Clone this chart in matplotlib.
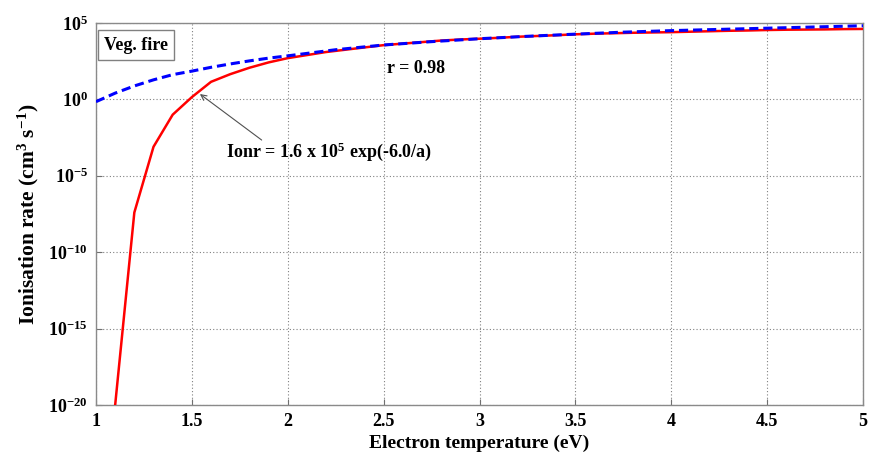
import numpy as np
import matplotlib
matplotlib.use("Agg")
import matplotlib.pyplot as plt
from matplotlib.ticker import FixedLocator, FuncFormatter, NullLocator

# ---- data ----
red_T = [1.1, 1.2, 1.3, 1.4, 1.5, 1.6, 1.7, 1.8, 1.9, 2.0,
         2.1, 2.2, 2.3, 2.4, 2.5, 2.6, 2.7, 2.8, 2.9, 3.0,
         3.1, 3.2, 3.3, 3.4, 3.5, 3.6, 3.7, 3.8, 3.9, 4.0,
         4.1, 4.2, 4.3, 4.4, 4.5, 4.6, 4.7, 4.8, 4.9, 5.0]
red_log = [-20.0, -7.4, -3.1, -1.0, 0.15, 1.15, 1.65, 2.07, 2.42, 2.7,
           2.9, 3.1, 3.25, 3.4, 3.55, 3.65, 3.75, 3.85, 3.92, 3.97,
           4.03, 4.1, 4.15, 4.2, 4.26, 4.3, 4.33, 4.36, 4.38, 4.4,
           4.43, 4.46, 4.49, 4.51, 4.54, 4.56, 4.57, 4.58, 4.6, 4.61]

blue_T = [1.0, 1.1, 1.2, 1.3, 1.4, 1.5, 1.6, 1.7, 1.8, 1.9, 2.0,
          2.25, 2.5, 2.75, 3.0, 3.25, 3.5, 3.75, 4.0, 4.25, 4.5, 4.75, 5.0]
blue_log = [-0.15, 0.41, 0.88, 1.28, 1.62, 1.85, 2.1, 2.32, 2.52, 2.7, 2.85,
            3.25, 3.56, 3.78, 3.97, 4.13, 4.27, 4.4, 4.5, 4.58, 4.66, 4.74, 4.82]

xticks = [1, 1.5, 2, 2.5, 3, 3.5, 4, 4.5, 5]
xtick_labels = ["1", "1.5", "2", "2.5", "3", "3.5", "4", "4.5", "5"]
ytick_exps = [-20, -15, -10, -5, 0, 5]

red_rate = [10.0 ** v for v in red_log]
blue_rate = [10.0 ** v for v in blue_log]

plt.rcParams['font.family'] = ['Liberation Serif', 'DejaVu Serif']
plt.rcParams['font.weight'] = 'bold'
plt.rcParams['mathtext.fontset'] = 'custom'
plt.rcParams['mathtext.rm'] = 'Liberation Serif:bold'
plt.rcParams['mathtext.bf'] = 'Liberation Serif:bold'
plt.rcParams['mathtext.it'] = 'Liberation Serif:bold'

fig = plt.figure(figsize=(8.75, 4.58), dpi=100)
ax = fig.add_axes([0.1097, 0.1157, 0.8766, 0.8341])

ax.plot(red_T, red_rate, color='#ff0000', lw=1.8, zorder=3)
ax.plot(blue_T, blue_rate, color='#0000ff', lw=2.2, ls=(0, (3, 1.6)), zorder=4)

ax.set_yscale('log')
ax.set_xlim(1, 5)
ax.set_ylim(1e-20, 1e5)

ax.xaxis.set_major_locator(FixedLocator(xticks))
ax.set_xticklabels(xtick_labels)
ax.yaxis.set_major_locator(FixedLocator([10.0 ** e for e in ytick_exps]))
ax.yaxis.set_minor_locator(NullLocator())
ax.yaxis.set_major_formatter(FuncFormatter(lambda v, p: r'$\mathbf{10^{%d}}$' % int(round(np.log10(v)))))

ax.tick_params(direction='in', length=4, width=0.8, color='#707070', labelsize=13, pad=6)
for lab in ax.get_xticklabels():
    lab.set_fontweight('bold')
ax.grid(True, which='major', color='#808080', ls=(0, (1, 2)), lw=0.8)
for s in ax.spines.values():
    s.set_color('#8a8a8a')
    s.set_linewidth(1.0)

ax.set_xlabel('Electron temperature (eV)', fontsize=14, fontweight='bold', labelpad=3)
ax.set_ylabel(r'Ionisation rate (cm$^{3}$ s$^{-1}$)', fontsize=15.5, fontweight='bold', labelpad=5)

ax.text(0.052, 0.942, 'Veg. fire', transform=ax.transAxes, fontsize=13, fontweight='bold',
        ha='center', va='center',
        bbox=dict(boxstyle='square,pad=0.35', fc='white', ec='#808080', lw=1.0), zorder=5)
ax.text(0.417, 0.882, 'r = 0.98', transform=ax.transAxes, fontsize=13, fontweight='bold',
        ha='center', va='center')

ax.annotate('', xy=(1.542, 10 ** 0.35), xytext=(1.864, 10 ** -2.66),
            arrowprops=dict(arrowstyle='->', color='#505050', lw=0.8, shrinkA=0, shrinkB=0))
ax.text(1.678, 10 ** -3.44, r'Ionr = 1.6 x 10$^{5}$ exp(-6.0/a)', fontsize=13, fontweight='bold',
        ha='left', va='center')

fig.savefig('out.png', dpi=100)
